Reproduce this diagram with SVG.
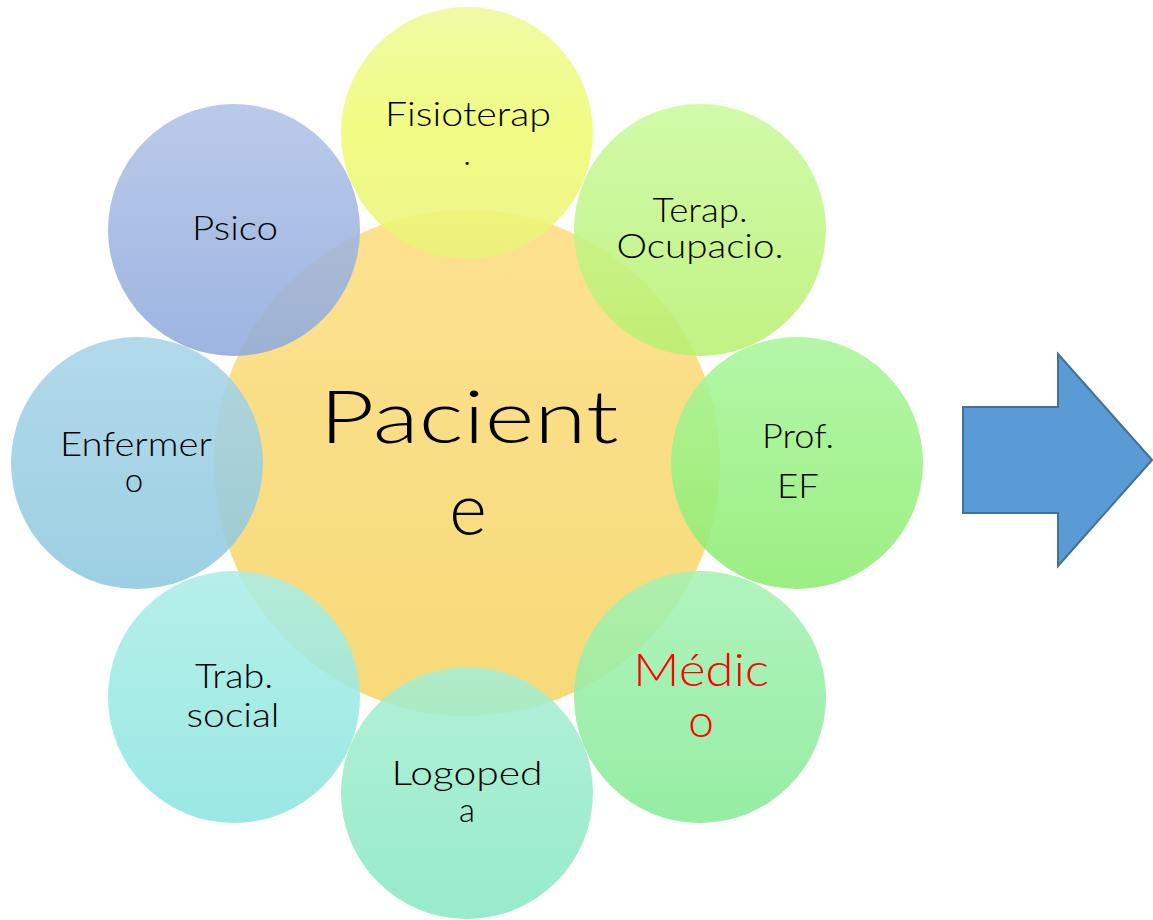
<svg xmlns="http://www.w3.org/2000/svg" width="1153" height="920" viewBox="0 0 1153 920">
<defs>
<linearGradient id="gC" x1="0" y1="0" x2="0" y2="1"><stop offset="0" stop-color="#fde190"/><stop offset="1" stop-color="#f6da78"/></linearGradient>
<linearGradient id="g1" x1="0" y1="0" x2="0" y2="1"><stop offset="0" stop-color="#eefa98"/><stop offset="0.5" stop-color="#effb70"/><stop offset="1" stop-color="#eaf37a"/></linearGradient>
<linearGradient id="g2" x1="0" y1="0" x2="0" y2="1"><stop offset="0" stop-color="#cafa9c"/><stop offset="1" stop-color="#b8f070"/></linearGradient>
<linearGradient id="g3" x1="0" y1="0" x2="0" y2="1"><stop offset="0" stop-color="#a8f69a"/><stop offset="1" stop-color="#8cec70"/></linearGradient>
<linearGradient id="g4" x1="0" y1="0" x2="0" y2="1"><stop offset="0" stop-color="#a4f2b4"/><stop offset="1" stop-color="#86ea94"/></linearGradient>
<linearGradient id="g5" x1="0" y1="0" x2="0" y2="1"><stop offset="0" stop-color="#a6eed2"/><stop offset="1" stop-color="#88e8c4"/></linearGradient>
<linearGradient id="g6" x1="0" y1="0" x2="0" y2="1"><stop offset="0" stop-color="#aaeee6"/><stop offset="1" stop-color="#8ce4e0"/></linearGradient>
<linearGradient id="g7" x1="0" y1="0" x2="0" y2="1"><stop offset="0" stop-color="#a6d4e8"/><stop offset="1" stop-color="#8ec8de"/></linearGradient>
<linearGradient id="g8" x1="0" y1="0" x2="0" y2="1"><stop offset="0" stop-color="#b0c2e8"/><stop offset="1" stop-color="#8eaadc"/></linearGradient>
</defs>
<style>
.c{opacity:0.87}
.t{font-family:Lato,"Liberation Sans",sans-serif;font-weight:300;font-size:33px;fill:#000;text-anchor:middle}
.big{font-size:72px}
.red{fill:#ff0000;font-size:46px}
</style>
<rect width="1153" height="920" fill="#ffffff"/>
<g id="paciente">
<circle cx="467" cy="463" r="253" fill="url(#gC)"/>
</g>
<g id="fisioterap"><circle class="c" cx="467" cy="133" r="126" fill="url(#g1)"/></g>
<g id="terap"><circle class="c" cx="700" cy="230" r="126" fill="url(#g2)"/></g>
<g id="prof"><circle class="c" cx="797" cy="463" r="126" fill="url(#g3)"/></g>
<g id="medico"><circle class="c" cx="700" cy="697" r="126" fill="url(#g4)"/></g>
<g id="logopeda"><circle class="c" cx="467" cy="793" r="126" fill="url(#g5)"/></g>
<g id="trab"><circle class="c" cx="234" cy="697" r="126" fill="url(#g6)"/></g>
<g id="enfermero"><circle class="c" cx="137" cy="463" r="126" fill="url(#g7)"/></g>
<g id="psico"><circle class="c" cx="234" cy="230" r="126" fill="url(#g8)"/></g>
<g id="labels">
<text class="t big" x="469" y="443" textLength="299" lengthAdjust="spacingAndGlyphs">Pacient</text>
<text class="t big" x="468" y="535">e</text>
<text class="t" x="468" y="126" textLength="166" lengthAdjust="spacingAndGlyphs">Fisioterap</text>
<text class="t" x="467" y="165">.</text>
<text class="t" x="700" y="222" textLength="95" lengthAdjust="spacingAndGlyphs">Terap.</text>
<text class="t" x="700" y="258" textLength="167" lengthAdjust="spacingAndGlyphs">Ocupacio.</text>
<text class="t" x="798" y="448" textLength="72" lengthAdjust="spacingAndGlyphs">Prof.</text>
<text class="t" x="798" y="498" textLength="42" lengthAdjust="spacingAndGlyphs">EF</text>
<text class="t red" x="701" y="686" textLength="136" lengthAdjust="spacingAndGlyphs">Médic</text>
<text class="t red" x="701" y="737">o</text>
<text class="t" x="467" y="785" textLength="151" lengthAdjust="spacingAndGlyphs">Logoped</text>
<text class="t" x="467" y="822">a</text>
<text class="t" x="234" y="688" textLength="78" lengthAdjust="spacingAndGlyphs">Trab.</text>
<text class="t" x="233" y="727" textLength="93" lengthAdjust="spacingAndGlyphs">social</text>
<text class="t" x="136" y="456" textLength="152" lengthAdjust="spacingAndGlyphs">Enfermer</text>
<text class="t" x="134" y="492">o</text>
<text class="t" x="235" y="240" textLength="86" lengthAdjust="spacingAndGlyphs">Psico</text>
</g>
<g id="arrow">
<polygon points="963,407 1058,407 1058,354 1152,460 1058,566 1058,513 963,513" fill="#5b9bd5" stroke="#41719c" stroke-width="2"/>
</g>
</svg>
